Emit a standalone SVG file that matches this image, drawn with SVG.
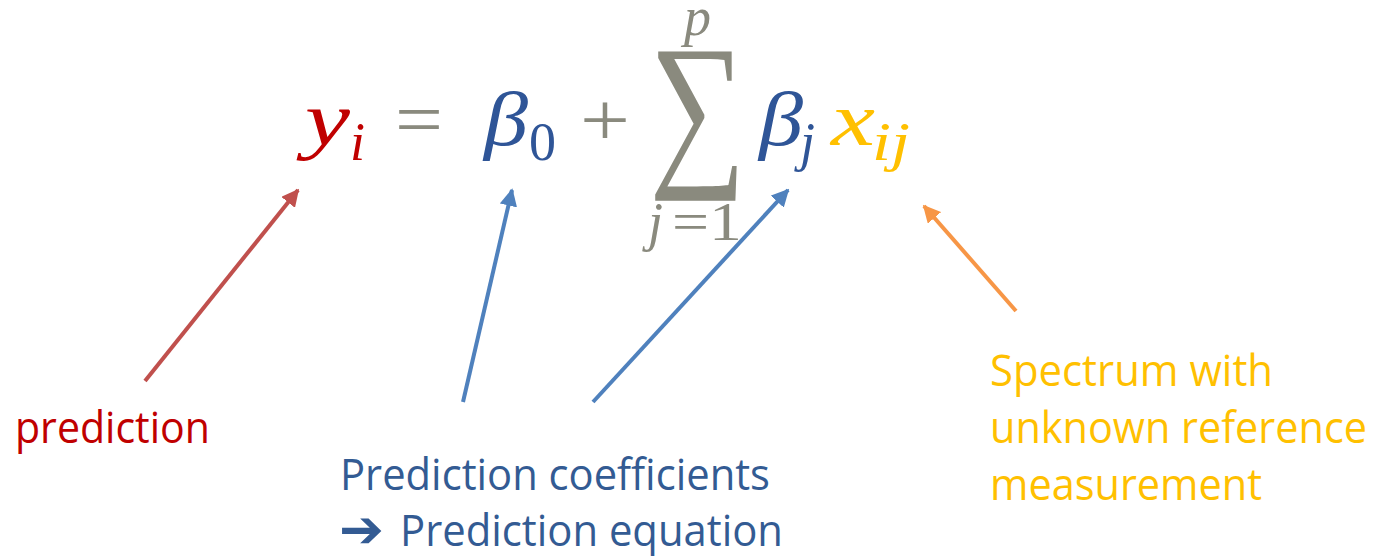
<svg xmlns="http://www.w3.org/2000/svg" width="1377" height="556" viewBox="0 0 1377 556">
<defs>
<style>
.m{font-family:"Liberation Serif","DejaVu Serif",serif;font-style:italic}
.u{font-family:"Liberation Serif","DejaVu Serif",serif}
.g{fill:#8A8A7E}
.t{font-family:"Open Sans","Liberation Sans",sans-serif;font-size:44px}
</style>
<marker id="aR" viewBox="0 0 10 10" refX="9" refY="5" markerWidth="4.4" markerHeight="4.4" orient="auto"><path d="M0,0 L10,5 L0,10 Z" fill="#C0504D"/></marker>
<marker id="aB" viewBox="0 0 10 10" refX="9" refY="5" markerWidth="4.4" markerHeight="4.4" orient="auto"><path d="M0,0 L10,5 L0,10 Z" fill="#4F81BD"/></marker>
<marker id="aO" viewBox="0 0 10 10" refX="9" refY="5" markerWidth="4.4" markerHeight="4.4" orient="auto"><path d="M0,0 L10,5 L0,10 Z" fill="#F79646"/></marker>
</defs>
<rect width="1377" height="556" fill="#ffffff"/>
<g id="equation">
<text class="m" x="305" y="145" font-size="76" fill="#C00000" textLength="45" lengthAdjust="spacingAndGlyphs">y</text>
<text class="m" x="350" y="160" font-size="54" fill="#C00000">i</text>
<text class="u g" x="395" y="145" font-size="76" textLength="48" lengthAdjust="spacingAndGlyphs">=</text>
<text class="m" x="484" y="145" font-size="76" fill="#2F5597" textLength="44" lengthAdjust="spacingAndGlyphs">β</text>
<text class="u" x="529" y="160" font-size="54" fill="#2F5597">0</text>
<text class="u g" x="580" y="145" font-size="76" textLength="50" lengthAdjust="spacingAndGlyphs">+</text>
<text class="u g" x="649" y="164" font-size="172" textLength="97" lengthAdjust="spacingAndGlyphs">∑</text>
<text class="m g" x="684" y="35" font-size="54">p</text>
<text class="m g" x="648" y="240" font-size="54">j</text>
<text class="u g" x="672" y="240" font-size="54" textLength="70" lengthAdjust="spacingAndGlyphs">=1</text>
<text class="m" x="759" y="145" font-size="76" fill="#2F5597" textLength="44" lengthAdjust="spacingAndGlyphs">β</text>
<text class="m" x="800" y="160" font-size="54" fill="#2F5597">j</text>
<text class="m" x="831" y="145" font-size="76" fill="#FFC000" textLength="44" lengthAdjust="spacingAndGlyphs">x</text>
<text class="m" x="872" y="160" font-size="54" fill="#FFC000" textLength="38" lengthAdjust="spacingAndGlyphs">ij</text>
</g>
<g id="connectors" stroke-width="4" fill="none">
<line x1="145" y1="381" x2="298" y2="190" stroke="#C0504D" marker-end="url(#aR)"/>
<line x1="463" y1="402" x2="512" y2="190" stroke="#4F81BD" marker-end="url(#aB)"/>
<line x1="593" y1="402" x2="788" y2="190" stroke="#4F81BD" marker-end="url(#aB)"/>
<line x1="1016" y1="311" x2="924" y2="206" stroke="#F79646" marker-end="url(#aO)"/>
</g>
<g id="label-prediction">
<text class="t" x="15" y="443" fill="#C00000" textLength="195" lengthAdjust="spacingAndGlyphs">prediction</text>
</g>
<g id="label-coefficients" fill="#335B93">
<text class="t" x="340" y="490" textLength="430" lengthAdjust="spacingAndGlyphs">Prediction coefficients</text>
<text x="339" y="547" font-family="DejaVu Sans,sans-serif" font-size="52" font-weight="bold" textLength="45" lengthAdjust="spacingAndGlyphs">➔</text>
<text class="t" x="400" y="546" textLength="383" lengthAdjust="spacingAndGlyphs">Prediction equation</text>
</g>
<g id="label-spectrum" fill="#FFC000">
<text class="t" x="990" y="386" textLength="283" lengthAdjust="spacingAndGlyphs">Spectrum with</text>
<text class="t" x="990" y="443" textLength="377" lengthAdjust="spacingAndGlyphs">unknown reference</text>
<text class="t" x="990" y="500" textLength="272" lengthAdjust="spacingAndGlyphs">measurement</text>
</g>
</svg>
